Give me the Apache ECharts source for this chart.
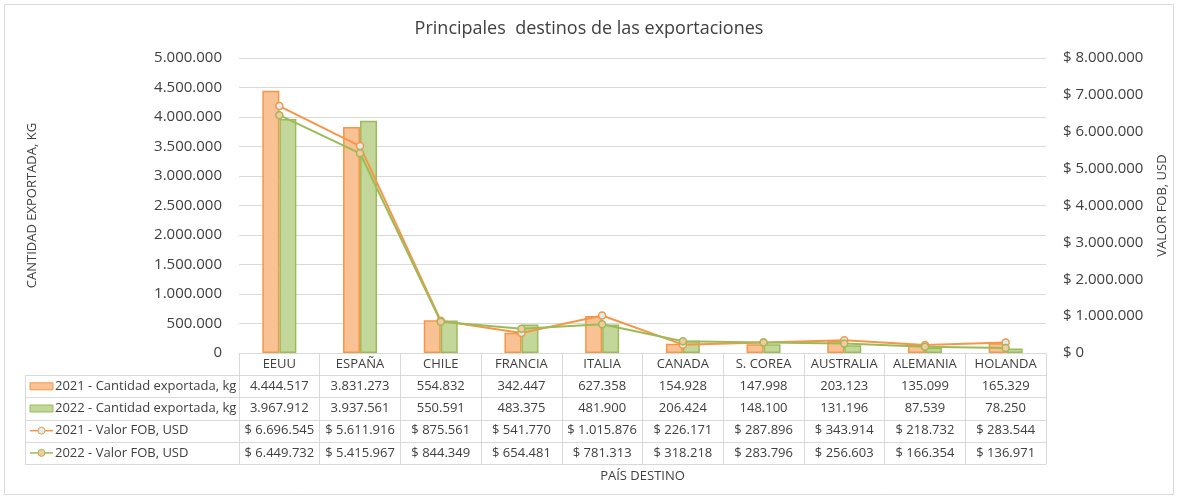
<!DOCTYPE html>
<html>
<head>
<meta charset="utf-8">
<script src="https://cdn.jsdelivr.net/npm/echarts@6/dist/echarts.min.js"></script>
<style>
  html, body { margin: 0; padding: 0; background: #fff; }
  #chart { width: 1178px; height: 499px; }
</style>
</head>
<body>
<div id="chart"></div>
<script>
const paises = ["EEUU", "ESPAÑA", "CHILE", "FRANCIA", "ITALIA", "CANADA", "S. COREA", "AUSTRALIA", "ALEMANIA", "HOLANDA"];
const kg2021 = [4444517, 3831273, 554832, 342447, 627358, 154928, 147998, 203123, 135099, 165329];
const kg2022 = [3967912, 3937561, 550591, 483375, 481900, 206424, 148100, 131196, 87539, 78250];
const usd2021 = [6696545, 5611916, 875561, 541770, 1015876, 226171, 287896, 343914, 218732, 283544];
const usd2022 = [6449732, 5415967, 844349, 654481, 781313, 318218, 283796, 256603, 166354, 136971];
const nombres = ["2021 - Cantidad exportada, kg", "2022 - Cantidad exportada, kg", "2021 - Valor FOB, USD", "2022 - Valor FOB, USD"];

const FONT = "Open Sans";
const GRIS = "#D9D9D9";
const TEXTO = "#404040";

// separador de miles con punto
function miles(n) {
  return String(n).replace(/\B(?=(\d{3})+(?!\d))/g, ".");
}

const naranja = { fill: "#F9C295", borde: "#F79646", marca: "#DAEEF3" };
const verde = { fill: "#C4D79B", borde: "#9BBB59", marca: "#FAC8A0" };

const chart = echarts.init(document.getElementById("chart"), null, { renderer: "canvas" });

const options = {
  animation: false,
  textStyle: { fontFamily: FONT },
  title: {
    text: "Principales  destinos de las exportaciones",
    left: "center",
    top: 15,
    textStyle: { fontFamily: FONT, fontSize: 18, fontWeight: "normal", color: TEXTO },
  },
  grid: { left: 239, right: 132, top: 58, bottom: 146 },
  xAxis: {
    type: "category",
    data: paises,
    name: "PAÍS DESTINO",
    nameLocation: "middle",
    nameGap: 117,
    nameTextStyle: { fontFamily: FONT, fontSize: 13, color: TEXTO },
    axisLine: { lineStyle: { color: GRIS } },
    axisTick: { show: true, length: 111, lineStyle: { color: GRIS } },
    axisLabel: { margin: 5, fontFamily: FONT, fontSize: 13, color: TEXTO, interval: 0 },
  },
  yAxis: [
    {
      type: "value",
      min: 0,
      max: 5000000,
      interval: 500000,
      name: "CANTIDAD EXPORTADA, KG",
      nameLocation: "middle",
      nameRotate: 90,
      nameGap: 200,
      nameTextStyle: { fontFamily: FONT, fontSize: 13, color: TEXTO },
      axisLine: { show: false },
      axisTick: { show: false },
      splitLine: { lineStyle: { color: GRIS } },
      axisLabel: { formatter: miles, margin: 17, fontFamily: FONT, fontSize: 15, color: TEXTO },
    },
    {
      type: "value",
      min: 0,
      max: 8000000,
      interval: 1000000,
      name: "VALOR FOB, USD",
      nameLocation: "middle",
      nameRotate: 90,
      nameGap: 110,
      nameTextStyle: { fontFamily: FONT, fontSize: 13, color: TEXTO },
      axisLine: { show: false },
      axisTick: { show: false },
      splitLine: { show: false },
      axisLabel: { formatter: (v) => "$ " + miles(v), margin: 17, fontFamily: FONT, fontSize: 15, color: TEXTO },
    },
  ],
  series: [
    {
      name: nombres[0],
      type: "bar",
      data: kg2021,
      barWidth: 17,
      barGap: "0%",
      itemStyle: { color: naranja.fill, borderColor: naranja.borde, borderWidth: 1.5 },
    },
    {
      name: nombres[1],
      type: "bar",
      data: kg2022,
      barWidth: 17,
      itemStyle: { color: verde.fill, borderColor: verde.borde, borderWidth: 1.5 },
    },
    {
      name: nombres[2],
      type: "line",
      yAxisIndex: 1,
      data: usd2021,
      symbol: "circle",
      symbolSize: 7,
      lineStyle: { color: naranja.borde, width: 2 },
      itemStyle: { color: naranja.marca, borderColor: naranja.borde, borderWidth: 1.5 },
    },
    {
      name: nombres[3],
      type: "line",
      yAxisIndex: 1,
      data: usd2022,
      symbol: "circle",
      symbolSize: 7,
      lineStyle: { color: verde.borde, width: 2 },
      itemStyle: { color: verde.marca, borderColor: verde.borde, borderWidth: 1.5 },
    },
  ],
};

chart.setOption(options);

// Tabla de datos bajo el gráfico

const x0 = chart.convertToPixel({ xAxisIndex: 0 }, 0);
const x1 = chart.convertToPixel({ xAxisIndex: 0 }, 1);
const ancho = x1 - x0;
const der = Math.round(chart.convertToPixel({ xAxisIndex: 0 }, paises.length - 1) + ancho / 2);
const base = Math.round(chart.convertToPixel({ yAxisIndex: 0 }, 0));
const alto = 22.2;
const tablaIzq = 25;
const filas = [kg2021, kg2022, usd2021, usd2022];
const formatos = [miles, miles, (v) => "$ " + miles(v), (v) => "$ " + miles(v)];
const colores = [naranja, verde, naranja, verde];

const graficos = [];

graficos.push({
  type: "rect",
  shape: { x: 4.5, y: 4.5, width: 1169, height: 490 },
  style: { fill: null, stroke: GRIS, lineWidth: 1 },
});

for (let r = 1; r <= 5; r++) {
  const y = Math.round(base + r * alto) + 0.5;
  graficos.push({
    type: "line",
    shape: { x1: tablaIzq, y1: y, x2: der, y2: y },
    style: { stroke: GRIS, lineWidth: 1 },
  });
}
graficos.push({
  type: "line",
  shape: { x1: tablaIzq + 0.5, y1: Math.round(base + alto) + 0.5, x2: tablaIzq + 0.5, y2: Math.round(base + 5 * alto) + 0.5 },
  style: { stroke: GRIS, lineWidth: 1 },
});

filas.forEach((fila, r) => {
  const yc = base + (r + 1.5) * alto;
  const c = colores[r];
  if (r < 2) {
    graficos.push({
      type: "rect",
      shape: { x: 30, y: yc - 3.5, width: 23, height: 7 },
      style: { fill: c.fill, stroke: c.borde, lineWidth: 1 },
    });
  } else {
    graficos.push({
      type: "line",
      shape: { x1: 30, y1: yc, x2: 53, y2: yc },
      style: { stroke: c.borde, lineWidth: 1.5 },
    });
    graficos.push({
      type: "circle",
      shape: { cx: 41.5, cy: yc, r: 3.5 },
      style: { fill: c.marca, stroke: c.borde, lineWidth: 1 },
    });
  }
  graficos.push({
    type: "text",
    x: 55,
    y: yc,
    style: { text: nombres[r], font: "13px '" + FONT + "'", fill: TEXTO, verticalAlign: "middle", align: "left" },
  });
  fila.forEach((v, i) => {
    graficos.push({
      type: "text",
      x: chart.convertToPixel({ xAxisIndex: 0 }, i),
      y: yc,
      style: { text: formatos[r](v), font: "13px '" + FONT + "'", fill: TEXTO, verticalAlign: "middle", align: "center" },
    });
  });
});

chart.setOption({ graphic: { elements: graficos } });

window.addEventListener("resize", function () {
  chart.resize();
});
</script>
</body>
</html>
